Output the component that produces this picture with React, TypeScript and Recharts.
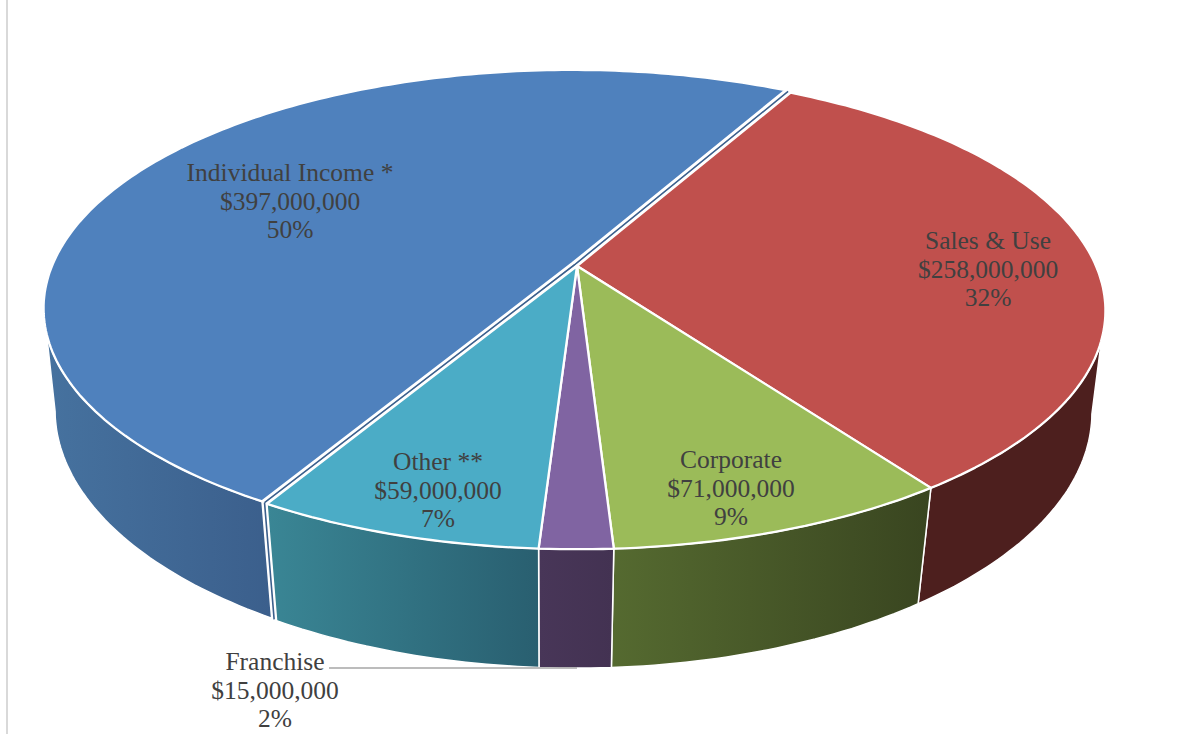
import { Pie, PieChart } from "recharts";

const names = ["Individual Income *", "Sales & Use", "Corporate", "Franchise", "Other **"];
const amounts = [397000000, 258000000, 71000000, 15000000, 59000000];
const shares = ["50%", "32%", "9%", "2%", "7%"];

const topColors = ["#4f81bd", "#c0504d", "#9bbb59", "#8064a2", "#4bacc6"];
const wallFrom = ["#46729f", "#4d1f1e", "#556a30", "#483658", "#3a8695"];
const wallTo = ["#3b5f8c", "#4d1f1e", "#394520", "#433252", "#295f70"];

const rows = names.map((name, i) => ({ name, value: amounts[i] }));

const WIDTH = 1182;
const HEIGHT = 734;
const CX = 577;
const CY = 266;
const START_ANGLE = 240;

// perspective ellipses for the top face and the bottom rim of the disc
const topRim = { x0: CX, y0: CY, rx: 519, ry: 230, k: 0.188 };
const bottomRim = { x0: CX - 1, y0: CY + 101.5, rx: 508, ry: 248, k: 0.175 };

// the wall only shows between the two widest points of the disc
const WALL_FROM = 10.5;
const WALL_TO = 169.5;

// Individual Income is pulled a little out of the pie
const explode: Record<string, [number, number]> = {
  "Individual Income *": [-5, -2.5],
};

// first line baseline, relative to the pie centre
const labelOffsets: Record<string, [number, number]> = {
  "Individual Income *": [-287, -85],
  "Sales & Use": [411, -17],
  Corporate: [154, 202],
  Franchise: [-302, 404],
  "Other **": [-139, 204],
};

type Rim = typeof topRim;

function project(rim: Rim, deg: number) {
  const t = (deg * Math.PI) / 180;
  const d = 1 - rim.k * Math.sin(t);
  return [rim.x0 + (rim.rx * Math.cos(t)) / d, rim.y0 + (rim.ry * Math.sin(t)) / d];
}

function arcPoints(rim: Rim, from: number, to: number) {
  const steps = Math.max(2, Math.ceil(Math.abs(to - from)));
  const pts: number[][] = [];
  for (let i = 0; i <= steps; i++) pts.push(project(rim, from + ((to - from) * i) / steps));
  return pts;
}

function toPath(pts: number[][]) {
  return pts.map((p, i) => `${i ? "L" : "M"}${p[0].toFixed(1)} ${p[1].toFixed(1)}`).join(" ");
}

function offsetOf(name: string) {
  const o = explode[name] ?? [0, 0];
  return `translate(${o[0]} ${o[1]})`;
}

function TopFace(props: any) {
  // recharts angles run anticlockwise, the screen ones clockwise
  const from = -props.startAngle;
  const to = -props.endAngle;
  const i = names.indexOf(props.name);
  const d = `M${CX} ${CY} ${toPath(arcPoints(topRim, from, to)).replace("M", "L")} Z`;
  return (
    <path
      d={d}
      fill={topColors[i]}
      stroke="#fff"
      strokeWidth={2.3}
      strokeLinejoin="round"
      transform={offsetOf(props.name)}
    />
  );
}

// thin dark strip seen through the gap of a pulled out slice
function CutFaces({ name, from, to, color }: { name: string; from: number; to: number; color: string }) {
  const o = explode[name];
  if (!o) return null;
  const shift = `translate(${o[0] / 2} ${o[1] / 2})`;
  const a = project(topRim, from);
  const b = project(topRim, to);
  const c = project(bottomRim, from);
  const d = `M${a[0]} ${a[1]} L${CX} ${CY} L${b[0]} ${b[1]} M${a[0]} ${a[1]} L${c[0]} ${c[1]}`;
  return <path d={d} fill="none" stroke={color} strokeWidth={1.6} transform={shift} />;
}

function Wall(props: any) {
  const i = names.indexOf(props.name);
  const t0 = -props.startAngle;
  const t1 = -props.endAngle;
  for (const turn of [0, 360]) {
    const a = Math.max(t0 + turn, WALL_FROM);
    const b = Math.min(t1 + turn, WALL_TO);
    if (a < b) {
      const pts = [...arcPoints(topRim, a, b), ...arcPoints(bottomRim, b, a)];
      return (
        <g>
          <CutFaces name={props.name} from={t0} to={t1} color={wallTo[i]} />
          <path
            d={`${toPath(pts)} Z`}
            fill={`url(#wall-${i})`}
            stroke="#fff"
            strokeWidth={1.5}
            strokeLinejoin="round"
            transform={offsetOf(props.name)}
          />
        </g>
      );
    }
  }
  return <g />;
}

function SliceLabel(props: any) {
  const i = names.indexOf(props.name);
  const [dx, dy] = labelOffsets[props.name];
  const x = CX + dx;
  const y = CY + dy;
  const money = `$${amounts[i].toLocaleString("en-US")}`;
  return (
    <g>
      {props.name === "Franchise" && (
        <line x1={x + 54} y1={y - 2} x2={CX} y2={y - 2} stroke="#a6a6a6" strokeWidth={1.5} />
      )}
      <text x={x} y={y} textAnchor="middle" fontFamily="'Liberation Serif', serif" fontSize={25.5} fill="#404040">
        <tspan x={x}>{props.name}</tspan>
        <tspan x={x} dy={28.5}>{money}</tspan>
        <tspan x={x} dy={28.5}>{shares[i]}</tspan>
      </text>
    </g>
  );
}

export default function App() {
  return (
    <div style={{ position: "absolute", left: 0, top: 0, width: WIDTH, height: HEIGHT, background: "#fff", overflow: "hidden" }}>
      <div style={{ position: "absolute", left: 6, top: 0, width: 2, height: HEIGHT, background: "#d9d9d9" }} />
      <PieChart width={WIDTH} height={HEIGHT} margin={{ top: 0, right: 0, bottom: 0, left: 0 }}>
        <defs>
          {wallFrom.map((c, i) => (
            <linearGradient key={c + i} id={`wall-${i}`} x1="0" y1="0" x2="1" y2="0">
              <stop offset="0%" stopColor={c} />
              <stop offset="100%" stopColor={wallTo[i]} />
            </linearGradient>
          ))}
        </defs>
        <Pie
          data={rows}
          dataKey="value"
          nameKey="name"
          cx={CX}
          cy={CY}
          outerRadius={200}
          startAngle={START_ANGLE}
          endAngle={START_ANGLE - 360}
          shape={Wall}
          label={false}
          isAnimationActive={false}
        />
        <Pie
          data={rows}
          dataKey="value"
          nameKey="name"
          cx={CX}
          cy={CY}
          outerRadius={200}
          startAngle={START_ANGLE}
          endAngle={START_ANGLE - 360}
          shape={TopFace}
          label={SliceLabel}
          labelLine={false}
          isAnimationActive={false}
        />
      </PieChart>
    </div>
  );
}
